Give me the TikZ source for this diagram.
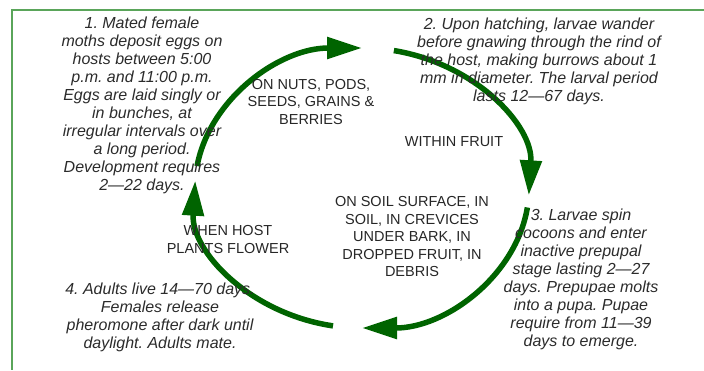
\documentclass[tikz,border=0pt]{standalone}
\usepackage{fontspec}
\setmainfont{Liberation Sans}
\usetikzlibrary{arrows.meta, calc}
\definecolor{cyclegreen}{HTML}{006400}
\definecolor{framegreen}{HTML}{5AA55A}
\definecolor{stepgray}{HTML}{2B2B2B}
\frenchspacing

\begin{document}
\begin{tikzpicture}[
  x=1pt, y=1pt,
  steptext/.style={align=center, inner sep=0pt, text=stepgray,
    font=\fontsize{16}{18}\selectfont\itshape},
  where/.style={align=center, inner sep=0pt, text=black!85,
    font=\fontsize{14.5}{17.5}\selectfont},
  cyclearrow/.style={line width=5.5pt, cyclegreen,
    -{Triangle[length=35pt, width=21pt]}}
]
  \useasboundingbox (0,0) rectangle (704,-370);
  % Frame
  \draw[framegreen, line width=1.5pt] (704,-10) -- (12,-10) -- (12,-370);
  % Life cycle arrows
  \coordinate (c) at (362,-188);
  \foreach \s/\e [count=\i] in {171/90, 79/-3, -8/-90, -100/-183} {
    \coordinate (s\i) at ($(c)+(\s:167pt and 140pt)$);
    \draw[cyclearrow] (s\i)
      arc[start angle=\s, end angle=\e, x radius=167pt, y radius=140pt];
  }
  % Stages
  \node[steptext] (step1) at (142,-105.5) {1. Mated female\\moths deposit eggs on\\hosts between 5:00\\p.m. and 11:00 p.m.\\Eggs are laid singly or\\in bunches, at\\irregular intervals over\\a long period.\\Development requires\\2—22 days.};
  \node[steptext] (step2) at (539,-61) {2. Upon hatching, larvae wander\\before gnawing through the rind of\\the host, making burrows about 1\\mm in diameter. The larval period\\lasts 12—67 days.};
  \node[steptext] (step3) at (581,-279) {3. Larvae spin\\cocoons and enter\\inactive prepupal\\stage lasting 2—27\\days. Prepupae molts\\into a pupa. Pupae\\require from 11—39\\days to emerge.};
  \node[steptext] (step4) at (160,-317) {4. Adults live 14—70 days.\\Females release\\pheromone after dark until\\daylight. Adults mate.};
  % Where each stage lives
  \node[where] (nuts) at (311,-102) {ON NUTS, PODS,\\SEEDS, GRAINS \&\\BERRIES};
  \node[where] (fruit) at (454,-142) {WITHIN FRUIT};
  \node[where] (soil) at (412,-237) {ON SOIL SURFACE, IN\\SOIL, IN CREVICES\\UNDER BARK, IN\\DROPPED FRUIT, IN\\DEBRIS};
  \node[where] (flower) at (228,-239.5) {WHEN HOST\\PLANTS FLOWER};
\end{tikzpicture}
\end{document}
